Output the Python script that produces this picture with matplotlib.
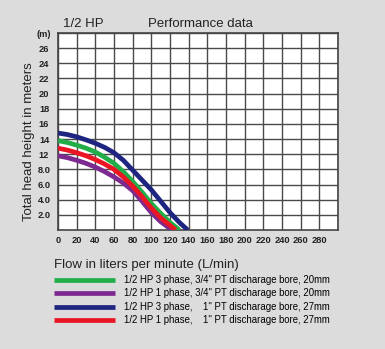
import matplotlib
matplotlib.use("Agg")
import matplotlib.pyplot as plt

plt.rcParams['font.family'] = ['Liberation Sans', 'DejaVu Sans']

# flow (L/min) and head height (one grid row = 2 units)
flow_g = [0, 10, 20, 30, 40, 50, 60, 70, 80, 90, 100, 110, 120, 130]
head_g = [11.8, 11.55, 11.2, 10.8, 10.3, 9.6, 8.8, 7.7, 6.4, 5.0, 3.5, 2.2, 1.0, 0.0]
flow_p = [0, 10, 20, 30, 40, 50, 60, 70, 80, 90, 100, 110, 122]
head_p = [9.8, 9.55, 9.2, 8.8, 8.3, 7.7, 7.0, 6.2, 5.2, 3.8, 2.3, 1.1, 0.0]
flow_b = [0, 10, 20, 30, 40, 50, 60, 70, 80, 90, 100, 110, 120, 130, 139]
head_b = [12.8, 12.6, 12.3, 11.9, 11.45, 10.9, 10.2, 9.2, 7.9, 6.6, 5.3, 3.8, 2.3, 1.0, 0.0]
flow_r = [0, 10, 20, 30, 40, 50, 60, 70, 80, 90, 100, 110, 120, 126]
head_r = [10.8, 10.55, 10.2, 9.8, 9.3, 8.7, 8.0, 7.0, 5.8, 4.4, 2.9, 1.6, 0.6, 0.0]

labels = ["1/2 HP 3 phase, 3/4'' PT discharage bore, 20mm",
          "1/2 HP 1 phase, 3/4'' PT discharage bore, 20mm",
          "1/2 HP 3 phase,    1'' PT discharage bore, 27mm",
          "1/2 HP 1 phase,    1'' PT discharage bore, 27mm"]
colors = ['#21ad48', '#7d2a90', '#1d2580', '#ec1524']

x_ticks = list(range(0, 300, 20))
y_ticks = list(range(2, 28, 2))
y_tick_labels = ['2.0', '4.0', '6.0', '8.0', '12', '14', '16', '18',
                 '20', '22', '24', '26', '(m)']

bg = '#dcdcdc'
fig = plt.figure(figsize=(3.85, 3.49), dpi=100, facecolor=bg)
ax = fig.add_axes([0.1506, 0.341, 0.7274, 0.5644])
ax.set_facecolor('white')

series = [(flow_g, head_g), (flow_p, head_p), (flow_b, head_b), (flow_r, head_r)]
handles = []
for (fx, hy), c, lab in zip(series, colors, labels):
    h, = ax.plot(fx, hy, color=c, lw=3.4, solid_capstyle='butt',
                 solid_joinstyle='round', label=lab, zorder=3)
    handles.append(h)

ax.set_xlim(0, 300)
ax.set_ylim(0, 26)
ax.set_xticks(x_ticks + [300])
ax.set_xticklabels([str(v) for v in x_ticks] + [''])
ax.set_yticks(y_ticks)
ax.set_yticklabels(y_tick_labels)
ax.tick_params(length=0, labelsize=6.7, colors='#222222')
ax.tick_params(axis='x', pad=4.5)
ax.tick_params(axis='y', pad=10)
for t in ax.get_xticklabels() + ax.get_yticklabels():
    t.set_fontweight('bold')
for t in ax.get_yticklabels():
    t.set_horizontalalignment('center')
ax.grid(True, color='#4a4a4a', lw=1.0)
for s in ax.spines.values():
    s.set_color('#444444')
    s.set_linewidth(1.2)

ax.set_ylabel('Total head height in meters', fontsize=9.5, color='#222222')
ax.yaxis.set_label_coords(-0.082, 0.45)

fig.text(0.164, 0.922, '1/2 HP', fontsize=9.5, color='#222222')
fig.text(0.384, 0.922, 'Performance data', fontsize=9.5, color='#222222')
fig.text(0.14, 0.232, 'Flow in liters per minute (L/min)', fontsize=9.5, color='#222222')

fig.legend(handles=handles, labels=labels, loc='upper left',
           bbox_to_anchor=(0.141, 0.212), frameon=False, fontsize=6.9,
           handlelength=6.3, handletextpad=1.0, labelspacing=0.36,
           borderaxespad=0, borderpad=0)

fig.savefig('out.png', dpi=100, facecolor=bg)
